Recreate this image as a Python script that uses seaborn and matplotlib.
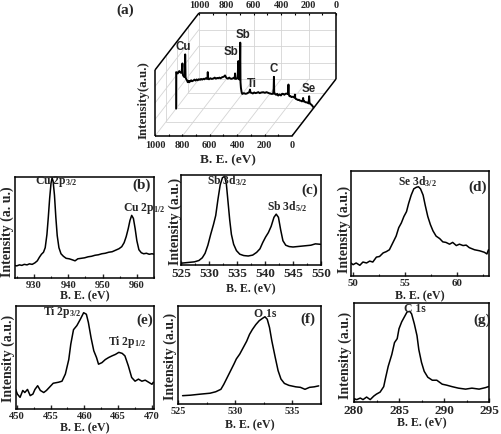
import matplotlib
matplotlib.use('Agg')
import matplotlib.pyplot as plt
from matplotlib import transforms
from matplotlib.ticker import MultipleLocator
import seaborn as sns

# ---- (a) survey spectrum: binding energy (eV) / relative intensity
survey_be = [1000, 999.5, 992, 988, 982, 976, 970, 964, 958, 954,
             951, 949, 945, 942, 936, 934, 931, 927, 921, 915,
             908, 903, 898, 890, 884, 874, 866, 858, 850, 842,
             834, 825, 818, 810, 801, 793, 785, 777, 771, 769,
             766, 760, 750, 740, 728, 718, 710, 700, 692, 684,
             676, 665, 655, 648, 643, 637, 631, 622, 612, 604,
             595, 585, 577, 572, 570, 567, 558, 551, 548, 546,
             543, 539, 535, 532, 530, 527, 522, 517, 505, 495,
             485, 475, 466, 461, 457, 449, 440, 430, 421, 413,
             400, 390, 378, 364, 352, 340, 328, 316, 303, 292,
             288, 286, 284, 279, 270, 262, 255, 245, 235, 226,
             218, 210, 202, 194, 184, 180, 177, 172, 165, 158,
             151, 146, 136, 133, 130, 126, 118, 110, 104, 97,
             89, 82, 76, 73, 70, 66, 58, 53, 49, 40,
             33, 29, 26, 22, 14, 8, 0]
survey_int = [0.0, 0.553, 0.54, 0.533, 0.56, 0.569, 0.55, 0.543, 0.55, 0.685,
              0.52, 0.503, 0.49, 0.482, 0.50, 0.822, 0.47, 0.452, 0.43, 0.401,
              0.42, 0.40, 0.416, 0.43, 0.415, 0.426, 0.44, 0.425, 0.442, 0.43,
              0.445, 0.437, 0.45, 0.44, 0.452, 0.445, 0.46, 0.452, 0.46, 0.553,
              0.452, 0.445, 0.46, 0.45, 0.457, 0.47, 0.455, 0.465, 0.462, 0.47,
              0.46, 0.475, 0.482, 0.49, 0.503, 0.48, 0.462, 0.455, 0.47, 0.455,
              0.452, 0.46, 0.47, 0.455, 0.533, 0.455, 0.452, 0.47, 0.60, 0.721,
              0.46, 0.442, 0.50, 1.0, 0.40, 0.315, 0.25, 0.223, 0.235, 0.225,
              0.228, 0.24, 0.25, 0.289, 0.245, 0.239, 0.23, 0.245, 0.235, 0.239,
              0.25, 0.235, 0.245, 0.249, 0.24, 0.25, 0.239, 0.23, 0.223, 0.225,
              0.30, 0.482, 0.25, 0.223, 0.21, 0.225, 0.198, 0.215, 0.20, 0.225,
              0.223, 0.21, 0.225, 0.228, 0.22, 0.365, 0.21, 0.188, 0.19, 0.175,
              0.18, 0.178, 0.17, 0.213, 0.16, 0.147, 0.14, 0.13, 0.135, 0.122,
              0.12, 0.11, 0.115, 0.162, 0.11, 0.112, 0.1, 0.095, 0.096, 0.09,
              0.08, 0.188, 0.08, 0.076, 0.06, 0.05, 0.025]
survey_ticks = [1000, 800, 600, 400, 200, 0]
survey_peaks = ['Cu', 'Sb', 'Sb', 'Ti', 'C', 'Se']

# ---- (b) Cu 2p
cu_be = [924.3, 925.0, 925.8, 926.5, 927.2, 928.0, 928.7, 929.5, 930.3, 931.0,
         931.6, 932.2, 932.8, 933.3, 933.8, 934.2, 934.6, 935.0, 935.3, 935.6,
         936.0, 936.4, 936.8, 937.3, 937.9, 938.6, 939.4, 940.3, 941.2, 942.0,
         942.8, 943.8, 944.8, 945.8, 946.8, 947.8, 948.8, 949.8, 950.8, 951.8,
         952.8, 953.8, 954.8, 955.6, 956.3, 956.9, 957.5, 958.0, 958.5, 959.0,
         959.5, 960.0, 960.6, 961.3, 962.0, 962.8, 963.6, 964.4, 965.1]
cu_int = [0.125, 0.12, 0.13, 0.125, 0.135, 0.13, 0.14, 0.135, 0.15, 0.17,
          0.205, 0.235, 0.255, 0.30, 0.43, 0.60, 0.79, 0.94, 0.99, 0.96,
          0.82, 0.60, 0.42, 0.30, 0.24, 0.215, 0.195, 0.19, 0.18, 0.17,
          0.19, 0.195, 0.20, 0.21, 0.215, 0.225, 0.23, 0.24, 0.245, 0.255,
          0.26, 0.275, 0.29, 0.31, 0.35, 0.41, 0.49, 0.57, 0.62, 0.59,
          0.49, 0.37, 0.28, 0.25, 0.24, 0.245, 0.235, 0.24, 0.235]

# ---- (c) Sb 3d
sb_be = [525.0, 525.8, 526.6, 527.4, 528.2, 528.8, 529.3, 529.8, 530.3, 530.8,
         531.2, 531.6, 532.0, 532.4, 532.8, 533.1, 533.4, 533.7, 534.0, 534.4,
         534.9, 535.5, 536.2, 537.0, 537.8, 538.5, 539.1, 539.6, 540.1, 540.6,
         541.1, 541.6, 542.0, 542.4, 542.8, 543.2, 543.7, 544.3, 545.0, 545.8,
         546.6, 547.4, 548.2, 549.0, 549.9]
sb_int = [0.02, 0.025, 0.03, 0.035, 0.05, 0.08, 0.13, 0.22, 0.34, 0.45,
          0.55, 0.73, 0.89, 0.97, 0.985, 0.90, 0.70, 0.50, 0.34, 0.23,
          0.16, 0.12, 0.105, 0.10, 0.11, 0.14, 0.18, 0.25, 0.31, 0.36,
          0.43, 0.53, 0.565, 0.53, 0.39, 0.27, 0.22, 0.205, 0.20, 0.205,
          0.21, 0.215, 0.22, 0.235, 0.23]

# ---- (d) Se 3d
se_be = [49.75, 50.0, 50.3, 50.65, 50.95, 51.3, 51.6, 51.9, 52.25, 52.55,
         52.9, 53.2, 53.5, 53.85, 54.15, 54.4, 54.65, 54.9, 55.15, 55.35,
         55.6, 55.85, 56.1, 56.3, 56.5, 56.75, 56.95, 57.2, 57.45, 57.7,
         58.0, 58.35, 58.65, 58.95, 59.3, 59.6, 59.95, 60.25, 60.6, 60.9,
         61.2, 61.7, 62.2, 62.65, 62.9, 63.05]
se_int = [0.127, 0.108, 0.124, 0.102, 0.133, 0.124, 0.142, 0.133, 0.18, 0.186,
          0.22, 0.232, 0.25, 0.32, 0.38, 0.46, 0.505, 0.567, 0.613, 0.69,
          0.77, 0.83, 0.845, 0.85, 0.83, 0.77, 0.675, 0.567, 0.49, 0.43,
          0.38, 0.356, 0.325, 0.32, 0.303, 0.32, 0.29, 0.303, 0.29, 0.294,
          0.27, 0.25, 0.24, 0.226, 0.21, 0.25]

# ---- (e) Ti 2p
ti_be = [449.85, 450.1, 450.5, 450.9, 451.2, 451.6, 452.0, 452.4, 452.7, 453.1,
         453.5, 454.0, 454.4, 454.9, 455.4, 456.2, 456.7, 457.2, 457.7, 458.0,
         458.4, 458.9, 459.4, 459.9, 460.3, 460.6, 461.0, 461.4, 461.8, 462.1,
         462.6, 463.1, 463.6, 464.1, 464.6, 465.1, 465.6, 466.0, 466.5, 467.0,
         467.5, 468.0, 468.5, 469.0, 469.5, 470.0, 470.2]
ti_int = [0.19, 0.145, 0.113, 0.18, 0.16, 0.19, 0.13, 0.145, 0.19, 0.226,
          0.18, 0.16, 0.18, 0.215, 0.25, 0.26, 0.27, 0.34, 0.48, 0.63,
          0.77, 0.81, 0.87, 0.935, 0.92, 0.84, 0.69, 0.565, 0.50, 0.435,
          0.45, 0.48, 0.50, 0.516, 0.53, 0.55, 0.54, 0.516, 0.42, 0.306,
          0.27, 0.29, 0.27, 0.28, 0.26, 0.24, 0.26]

# ---- (f) O 1s
o_be = [525.4, 526.1, 526.9, 527.8, 528.3, 528.75, 529.0, 529.3, 529.6, 529.9,
        530.1, 530.4, 530.7, 531.0, 531.25, 531.5, 531.8, 532.1, 532.4, 532.6,
        532.8, 533.0, 533.2, 533.5, 533.75, 534.0, 534.3, 534.7, 535.3, 535.7,
        536.1, 536.5, 536.9, 537.3]
o_int = [0.085, 0.09, 0.10, 0.11, 0.125, 0.15, 0.20, 0.27, 0.34, 0.41,
         0.46, 0.51, 0.575, 0.64, 0.71, 0.76, 0.81, 0.85, 0.875, 0.89,
         0.865, 0.78, 0.645, 0.475, 0.34, 0.255, 0.21, 0.19, 0.175, 0.17,
         0.15, 0.17, 0.175, 0.185]

# ---- (g) C 1s
c_be = [280.0, 280.3, 280.7, 281.0, 281.4, 281.8, 282.2, 282.5, 282.9, 283.3,
        283.5, 283.8, 284.2, 284.5, 284.8, 285.0, 285.3, 285.6, 285.9, 286.2,
        286.4, 286.7, 287.0, 287.2, 287.5, 287.8, 288.2, 288.7, 289.2, 289.8,
        290.3, 290.9, 291.6, 292.4, 293.1, 293.9, 294.6, 295.1]
c_int = [0.034, 0.024, 0.04, 0.024, 0.05, 0.024, 0.06, 0.08, 0.10, 0.155,
         0.24, 0.36, 0.48, 0.60, 0.64, 0.74, 0.81, 0.86, 0.91, 0.915,
         0.89, 0.79, 0.67, 0.53, 0.40, 0.31, 0.25, 0.22, 0.22, 0.18,
         0.17, 0.155, 0.14, 0.13, 0.14, 0.13, 0.145, 0.16]

sns.set_style('ticks')
plt.rcParams['font.family'] = ['Liberation Serif', 'DejaVu Serif']
plt.rcParams['font.weight'] = 'bold'
plt.rcParams['axes.labelweight'] = 'bold'
plt.rcParams['mathtext.fontset'] = 'custom'
plt.rcParams['mathtext.rm'] = 'Liberation Serif:bold'
plt.rcParams['mathtext.it'] = 'Liberation Serif:bold'
plt.rcParams['mathtext.bf'] = 'Liberation Serif:bold'
plt.rcParams['axes.edgecolor'] = 'black'
plt.rcParams['axes.linewidth'] = 1.1

W_PX, H_PX = 501, 435
fig = plt.figure(figsize=(W_PX / 100, H_PX / 100), dpi=100)

# ---------- panel (a): pseudo 3D box drawn in pixel space
ax_a = fig.add_axes([0, 0, 1, 1])
ax_a.axis('off')

X0, Y0 = 155, 137      # front bottom corner (1000 eV)
BOX_W, BOX_H = 137, 66
DX, DY = 44, 57        # depth offset of the back wall
DEPTH = 0.48           # depth of the spectrum plane


def proj(be, d, z):
    return X0 + (1000 - be) * BOX_W / 1000 + d * DX, Y0 - z * BOX_H - d * DY


def seg(p, q, **kw):
    ax_a.plot([p[0], q[0]], [p[1], q[1]], solid_capstyle='butt', **kw)


grid_kw = dict(color='#d4d4d4', lw=0.6, zorder=1)
for be in survey_ticks[1:-1]:
    seg(proj(be, 1, 0), proj(be, 1, 1), **grid_kw)
    seg(proj(be, 0, 0), proj(be, 1, 0), **grid_kw)
for z in (0.25, 0.5, 0.75):
    seg(proj(1000, 1, z), proj(0, 1, z), **grid_kw)
    seg(proj(1000, 0, z), proj(1000, 1, z), **grid_kw)
for d in (0.25, 0.5, 0.75):
    seg(proj(1000, d, 0), proj(0, d, 0), **grid_kw)
    seg(proj(1000, d, 0), proj(1000, d, 1), **grid_kw)
seg(proj(1000, 1, 0), proj(1000, 1, 1), **grid_kw)
seg(proj(1000, 1, 0), proj(0, 1, 0), **grid_kw)
seg(proj(1000, 0, 0), proj(1000, 1, 0), **grid_kw)

edge_kw = dict(color='black', lw=1.1, zorder=2)
seg(proj(1000, 0, 0), proj(0, 0, 0), **edge_kw)
seg(proj(1000, 0, 0), proj(1000, 0, 1), **edge_kw)
seg(proj(1000, 0, 1), proj(1000, 1, 1), **edge_kw)
seg(proj(1000, 1, 1), proj(0, 1, 1), **edge_kw)
seg(proj(0, 1, 0), proj(0, 1, 1), **edge_kw)
seg(proj(0, 0, 0), proj(0, 1, 0), **edge_kw)

for be in range(0, 1001, 100):
    x, y = proj(be, 0, 0)
    seg((x, y), (x, y - 2), color='black', lw=0.8)
    x, y = proj(be, 1, 1)
    seg((x, y), (x, y + 2), color='black', lw=0.8)

for be in survey_ticks:
    x, y = proj(be, 0, 0)
    ax_a.text(x, y + 9, str(be), ha='center', va='center', fontsize=7.4)
    x, y = proj(be, 1, 1)
    ax_a.text(x, y - 8, str(be), ha='center', va='center', fontsize=7.4)

plane = transforms.Affine2D.from_values(-BOX_W / 1000, 0, 0, -BOX_H,
                                        X0 + BOX_W + DEPTH * DX,
                                        Y0 - DEPTH * DY) + ax_a.transData
sns.lineplot(x=survey_be, y=survey_int, ax=ax_a, transform=plane, sort=False,
             estimator=None, color='black', lw=1.4, zorder=3)

label_pos = [(183, 47), (231, 52), (243, 35), (252, 84), (274, 69), (309, 89)]
for name, (x, y) in zip(survey_peaks, label_pos):
    ax_a.text(x, y, name, ha='center', va='center', fontsize=8.3,
              family=['Liberation Sans', 'DejaVu Sans'], weight='bold')

ax_a.text(144, 100, 'Intensity(a.u.)', rotation=90, ha='center', va='center', fontsize=9.3)
ax_a.text(228, 160, 'B. E. (eV)', ha='center', va='center', fontsize=9.5)
ax_a.text(125, 10, '(a)', ha='center', va='center', fontsize=11)
ax_a.set_xlim(0, W_PX)
ax_a.set_ylim(H_PX, 0)

# ---------- panels (b)-(g)
panels = [
    dict(x=cu_be, y=cu_int, box=(15, 178, 154, 279), xlim=(924.5, 965), ticks=[930, 940, 950, 960],
         minor=5, tsize=7.6, ylab='Intensity (a. u.)', ylab_xy=(-0.058, 0.47), xlab_y=-0.17,
         tag='(b)', tag_xy=(0.91, 0.93),
         peaks=[(r'Cu 2p$_{3/2}$', 936.4, 0.97), (r'Cu 2p$_{1/2}$', 962.2, 0.70)]),
    dict(x=sb_be, y=sb_int, box=(181, 176, 321, 266), xlim=(525, 550), ticks=[525, 530, 535, 540, 545, 550],
         minor=2.5, tsize=9.5, ylab='Intensity (a.u.)', ylab_xy=(-0.043, 0.5), xlab_y=-0.256,
         tag='(c)', tag_xy=(0.92, 0.84),
         peaks=[(r'Sb 3d$_{3/2}$', 533.3, 0.95), (r'Sb 3d$_{5/2}$', 544.0, 0.66)]),
    dict(x=se_be, y=se_int, box=(351, 172, 489, 277), xlim=(49.8, 63.1), ticks=[50, 55, 60],
         minor=2.5, tsize=7.8, ylab='Intensity (a.u.)', ylab_xy=(-0.05, 0.45), xlab_y=-0.18,
         tag='(d)', tag_xy=(0.92, 0.85),
         peaks=[(r'Se 3d$_{3/2}$', 56.25, 0.91)]),
    dict(x=ti_be, y=ti_int, box=(16, 307, 154, 410), xlim=(449.9, 470.3), ticks=[450, 455, 460, 465, 470],
         minor=2.5, tsize=7.6, ylab='Intensity (a.u.)', ylab_xy=(-0.058, 0.5), xlab_y=-0.175,
         tag='(e)', tag_xy=(0.93, 0.87),
         peaks=[(r'Ti 2p$_{3/2}$', 456.7, 0.95), (r'Ti 2p$_{1/2}$', 466.3, 0.66)]),
    dict(x=o_be, y=o_int, box=(178, 307, 321, 405), xlim=(525, 537.5), ticks=[525, 530, 535],
         minor=2.5, tsize=7.4, ylab='Intensity (a.u.)', ylab_xy=(-0.056, 0.5), xlab_y=-0.204,
         tag='(f)', tag_xy=(0.91, 0.87),
         peaks=[('O 1s', 532.6, 0.93)]),
    dict(x=c_be, y=c_int, box=(354, 304, 489, 403), xlim=(280, 295), ticks=[280, 285, 290, 295],
         minor=2.5, tsize=9.5, ylab='Intensity (a.u.)', ylab_xy=(-0.067, 0.48), xlab_y=-0.202,
         tag='(g)', tag_xy=(0.95, 0.84),
         peaks=[('C 1s', 286.8, 0.95)]),
]

for p in panels:
    left, top, right, bottom = p['box']
    ax = fig.add_axes([left / W_PX, 1 - bottom / H_PX, (right - left) / W_PX, (bottom - top) / H_PX])
    sns.lineplot(x=p['x'], y=p['y'], ax=ax, color='black', lw=1.1, sort=False, estimator=None)
    ax.set_xlim(*p['xlim'])
    ax.set_ylim(0, 1)
    ax.set_xticks(p['ticks'])
    ax.xaxis.set_minor_locator(MultipleLocator(p['minor']))
    ax.set_yticks([])
    ax.tick_params(axis='x', which='both', direction='in', pad=1.5, labelsize=p['tsize'])
    ax.tick_params(axis='x', which='major', length=3, width=1)
    ax.tick_params(axis='x', which='minor', length=1.5, width=0.8)
    for s in ax.spines.values():
        s.set_visible(True)
    ax.set_xlabel('B. E. (eV)', fontsize=8.6, va='center')
    ax.xaxis.set_label_coords(0.5, p['xlab_y'])
    ax.set_ylabel(p['ylab'], fontsize=10, va='center')
    ax.yaxis.set_label_coords(*p['ylab_xy'])
    ax.text(*p['tag_xy'], p['tag'], transform=ax.transAxes, ha='center', va='center', fontsize=11)
    for txt, xe, yf in p['peaks']:
        ax.text(xe, yf, txt, ha='center', va='center', fontsize=8.4)

fig.savefig('out.png', dpi=100)
